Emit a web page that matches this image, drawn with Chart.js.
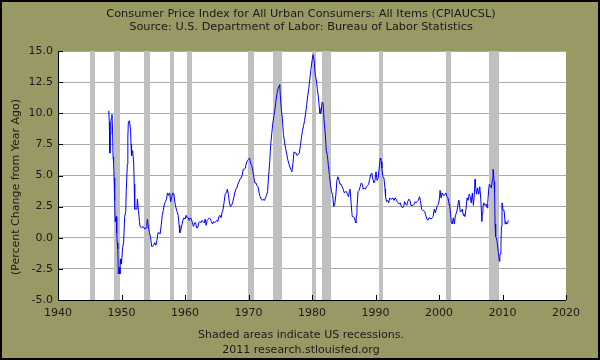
<!DOCTYPE html>
<html>
<head>
<meta charset="utf-8">
<title>CPIAUCSL</title>
<script src="https://cdn.jsdelivr.net/npm/chart.js@4/dist/chart.umd.min.js"></script>
<style>
  html, body { margin: 0; padding: 0; background: #999966; }
  canvas { display: block; }
</style>
</head>
<body>
<canvas id="cpiChart" width="600" height="360"></canvas>
<script>
// Datas das observações (ano decimal) e variação do CPI em 12 meses (%)
const obsDates = [
    1948.00, 1948.08, 1948.17, 1948.25, 1948.33, 1948.42, 1948.50, 1948.58, 1948.67, 1948.75, 1948.83, 1948.92,
    1949.00, 1949.08, 1949.17, 1949.25, 1949.33, 1949.42, 1949.50, 1949.58, 1949.67, 1949.75, 1949.83, 1949.92,
    1950.00, 1950.17, 1950.33, 1950.50, 1950.67, 1950.75, 1950.92,
    1951.00, 1951.08, 1951.25, 1951.42, 1951.50, 1951.58, 1951.75, 1951.92,
    1952.00, 1952.08, 1952.25, 1952.42, 1952.50, 1952.58, 1952.67, 1952.83, 1952.92,
    1953.17, 1953.42, 1953.67, 1953.92,
    1954.00, 1954.08, 1954.25, 1954.42, 1954.58, 1954.75, 1954.92,
    1955.08, 1955.25, 1955.42, 1955.58, 1955.75, 1955.92,
    1956.08, 1956.25, 1956.42, 1956.58, 1956.75, 1956.92,
    1957.08, 1957.25, 1957.42, 1957.58, 1957.75, 1957.92,
    1958.08, 1958.25, 1958.42, 1958.58, 1958.75, 1958.92,
    1959.08, 1959.17, 1959.33, 1959.50, 1959.67, 1959.83,
    1960.00, 1960.17, 1960.33, 1960.50, 1960.67, 1960.83,
    1961.00, 1961.17, 1961.33, 1961.50, 1961.67, 1961.83,
    1962.00, 1962.17, 1962.33, 1962.50, 1962.67, 1962.83,
    1963.00, 1963.17, 1963.33, 1963.50, 1963.67, 1963.83,
    1964.00, 1964.17, 1964.33, 1964.50, 1964.67, 1964.83,
    1965.00, 1965.17, 1965.33, 1965.50, 1965.67, 1965.83,
    1966.00, 1966.17, 1966.33, 1966.50, 1966.67, 1966.83,
    1967.00, 1967.17, 1967.33, 1967.50, 1967.67, 1967.83,
    1968.00, 1968.17, 1968.33, 1968.50, 1968.67, 1968.83,
    1969.00, 1969.17, 1969.33, 1969.50, 1969.67, 1969.83,
    1970.00, 1970.17, 1970.33, 1970.50, 1970.67, 1970.83,
    1971.00, 1971.17, 1971.33, 1971.50, 1971.67, 1971.83,
    1972.00, 1972.17, 1972.33, 1972.50, 1972.67, 1972.83,
    1973.00, 1973.17, 1973.33, 1973.50, 1973.67, 1973.83,
    1974.00, 1974.17, 1974.33, 1974.50, 1974.67, 1974.83, 1974.92,
    1975.00, 1975.17, 1975.33, 1975.50, 1975.67, 1975.83,
    1976.00, 1976.17, 1976.33, 1976.50, 1976.67, 1976.83,
    1977.00, 1977.17, 1977.33, 1977.50, 1977.67, 1977.83,
    1978.00, 1978.17, 1978.33, 1978.50, 1978.67, 1978.83,
    1979.00, 1979.17, 1979.33, 1979.50, 1979.67, 1979.83,
    1980.00, 1980.17, 1980.33, 1980.50, 1980.67, 1980.83,
    1981.00, 1981.17, 1981.25, 1981.42, 1981.58, 1981.75, 1981.92,
    1982.08, 1982.25, 1982.42, 1982.58, 1982.75, 1982.92,
    1983.08, 1983.25, 1983.42, 1983.58, 1983.75, 1983.92,
    1984.08, 1984.25, 1984.42, 1984.58, 1984.75, 1984.92,
    1985.08, 1985.25, 1985.42, 1985.58, 1985.75, 1985.92,
    1986.00, 1986.17, 1986.33, 1986.50, 1986.67, 1986.83, 1986.92,
    1987.00, 1987.08, 1987.17, 1987.25, 1987.42, 1987.58, 1987.75, 1987.92,
    1988.08, 1988.25, 1988.42, 1988.58, 1988.75, 1988.92,
    1989.08, 1989.25, 1989.42, 1989.58, 1989.75, 1989.92,
    1990.08, 1990.25, 1990.42, 1990.58, 1990.75, 1990.83, 1990.92,
    1991.00, 1991.17, 1991.33, 1991.50, 1991.58, 1991.75, 1991.92,
    1992.08, 1992.25, 1992.42, 1992.58, 1992.75, 1992.92,
    1993.08, 1993.25, 1993.42, 1993.58, 1993.75, 1993.92,
    1994.08, 1994.25, 1994.42, 1994.58, 1994.75, 1994.92,
    1995.08, 1995.25, 1995.42, 1995.58, 1995.75, 1995.92,
    1996.08, 1996.25, 1996.42, 1996.58, 1996.75, 1996.92,
    1997.08, 1997.25, 1997.42, 1997.58, 1997.75, 1997.92,
    1998.08, 1998.25, 1998.42, 1998.58, 1998.75, 1998.92,
    1999.08, 1999.25, 1999.42, 1999.58, 1999.75, 1999.92,
    2000.08, 2000.17, 2000.33, 2000.50, 2000.67, 2000.83, 2000.92,
    2001.08, 2001.25, 2001.42, 2001.58, 2001.67, 2001.83, 2001.92,
    2002.08, 2002.25, 2002.42, 2002.58, 2002.75, 2002.92,
    2003.08, 2003.17, 2003.33, 2003.50, 2003.67, 2003.83, 2003.92,
    2004.08, 2004.25, 2004.42, 2004.58, 2004.75, 2004.92,
    2005.08, 2005.25, 2005.42, 2005.58, 2005.67, 2005.75, 2005.92,
    2006.08, 2006.25, 2006.42, 2006.58, 2006.75, 2006.83, 2006.92,
    2007.08, 2007.25, 2007.42, 2007.58, 2007.67, 2007.83, 2007.92,
    2008.08, 2008.25, 2008.42, 2008.50, 2008.58, 2008.67, 2008.75, 2008.83, 2008.92,
    2009.08, 2009.17, 2009.33, 2009.50, 2009.58, 2009.67, 2009.75, 2009.83, 2009.92,
    2010.00, 2010.08, 2010.25, 2010.42, 2010.50, 2010.67, 2010.83, 2010.92
];

const cpiChange = [
    10.2, 9.3, 6.8, 8.3, 9.4, 9.6, 9.9, 8.9, 6.5, 6.1, 4.8, 3.0,
    1.3, 1.3, 1.7, 0.4, -0.4, -0.9, -2.9, -2.9, -2.4, -2.9, -1.7, -2.1,
    -2.1, -0.8, -0.4, 1.7, 2.1, 3.8, 5.9,
    8.1, 9.3, 9.4, 8.7, 7.5, 6.6, 7.0, 6.0,
    4.3, 2.3, 2.3, 2.3, 3.1, 3.1, 2.2, 1.3, 0.9,
    0.8, 0.9, 0.7, 0.8,
    1.1, 1.5, 0.8, 0.4, 0.0, -0.7, -0.7,
    -0.6, -0.4, -0.6, -0.2, 0.4, 0.4,
    0.3, 1.0, 1.8, 2.2, 2.7, 2.9,
    3.1, 3.6, 3.4, 3.6, 2.9, 3.3,
    3.6, 3.5, 2.8, 2.4, 2.1, 1.8,
    1.0, 0.4, 0.6, 1.0, 1.4, 1.6,
    1.5, 1.8, 1.6, 1.6, 1.4, 1.6,
    1.5, 1.2, 0.9, 1.2, 1.2, 0.8,
    0.8, 1.2, 1.3, 1.2, 1.4, 1.3,
    1.2, 1.5, 1.0, 1.4, 1.5, 1.6,
    1.5, 1.3, 1.1, 1.3, 1.2, 1.3,
    1.4, 1.3, 1.7, 1.8, 1.6, 2.0,
    2.3, 2.9, 3.5, 3.6, 3.9, 3.5,
    2.8, 2.5, 2.6, 2.8, 3.2, 3.6,
    3.9, 4.0, 4.3, 4.5, 4.7, 4.8,
    5.0, 5.5, 5.5, 5.6, 6.0, 6.2,
    6.3, 6.4, 6.0, 5.8, 5.4, 4.9,
    4.4, 4.4, 4.2, 4.1, 3.6, 3.3,
    3.1, 3.0, 3.1, 3.0, 3.2, 3.4,
    3.7, 5.0, 6.0, 7.5, 8.4, 9.2,
    9.8, 10.3, 11.0, 11.6, 12.0, 12.2, 12.3,
    11.5, 10.3, 9.6, 8.3, 7.7, 7.2,
    6.8, 6.3, 6.0, 5.7, 5.5, 5.3,
    6.0, 6.9, 6.8, 6.8, 6.6, 6.7,
    6.8, 7.4, 8.0, 8.6, 9.0, 9.4,
    10.0, 10.7, 11.4, 12.0, 12.8, 13.5,
    14.2, 14.7, 14.3, 13.1, 12.7, 12.0,
    11.3, 10.4, 10.0, 10.0, 10.9, 10.8, 9.3,
    8.4, 7.0, 6.6, 5.8, 5.0, 4.2,
    3.7, 3.4, 2.5, 2.7, 3.4, 4.6,
    4.9, 4.6, 4.3, 4.3, 4.1, 3.9,
    3.6, 3.7, 3.7, 3.5, 3.3, 3.8,
    3.9, 2.7, 1.7, 1.7, 1.6, 1.3, 1.2,
    1.8, 2.4, 3.1, 3.7, 3.8, 4.1, 4.4, 4.3,
    3.9, 4.0, 3.9, 4.1, 4.2, 4.3,
    4.7, 5.1, 5.2, 4.7, 4.4, 4.6,
    5.3, 4.6, 4.8, 5.6, 6.4, 6.3, 6.1,
    5.6, 4.9, 4.8, 3.9, 3.3, 2.9, 3.0,
    2.8, 3.2, 3.1, 3.1, 3.2, 3.0,
    3.2, 3.1, 2.9, 2.8, 2.7, 2.8,
    2.5, 2.4, 2.5, 2.9, 2.7, 2.6,
    2.9, 3.1, 3.0, 2.6, 2.6, 2.6,
    2.7, 2.9, 2.8, 2.9, 3.0, 3.3,
    3.0, 2.3, 2.2, 2.2, 2.1, 1.8,
    1.5, 1.4, 1.6, 1.6, 1.5, 1.6,
    1.7, 2.3, 2.0, 2.3, 2.6, 2.7,
    3.2, 3.8, 3.2, 3.6, 3.4, 3.4, 3.4,
    3.6, 3.3, 3.2, 2.7, 2.6, 1.9, 1.3,
    1.1, 1.6, 1.1, 1.8, 2.0, 2.4,
    3.0, 3.0, 2.1, 2.1, 2.3, 1.8, 1.9,
    1.7, 2.3, 3.2, 3.0, 3.5, 3.3,
    2.8, 3.6, 2.6, 3.6, 4.7, 4.2, 3.5,
    4.0, 3.5, 4.1, 3.1, 1.3, 2.0, 2.5,
    2.8, 2.6, 2.7, 2.4, 2.8, 3.9, 4.3,
    4.2, 4.0, 4.7, 5.5, 5.4, 4.5, 3.7, 1.1, 0.1,
    -0.1, -0.4, -1.1, -1.9, -1.4, -1.3, -0.7, 0.9, 2.8,
    2.6, 2.2, 2.2, 1.1, 1.3, 1.1, 1.2, 1.4
];

// Recessões dos EUA (início e fim, ano decimal)
const recessionStart = [1945.00, 1948.83, 1953.50, 1957.58, 1960.25, 1969.92, 1973.83, 1980.00, 1981.50, 1990.50, 2001.17, 2007.92];
const recessionEnd   = [1945.75, 1949.83, 1954.42, 1958.33, 1961.17, 1970.92, 1975.25, 1980.58, 1982.92, 1991.25, 2001.92, 2009.50];

const titleLines = [
    'Consumer Price Index for All Urban Consumers: All Items (CPIAUCSL)',
    'Source: U.S. Department of Labor: Bureau of Labor Statistics'
];
const footerLines = [
    'Shaded areas indicate US recessions.',
    '2011 research.stlouisfed.org'
];
const yAxisLabel = '(Percent Change from Year Ago)';

const OLIVE = '#999966';
const TEXT = '#1a1a1a';
const FONT = '"DejaVu Sans", Verdana, sans-serif';

Chart.defaults.font.family = FONT;
Chart.defaults.font.size = 11;
Chart.defaults.color = TEXT;

// Fundo, faixas de recessão, marcas dos eixos e textos
const fredFrame = {
    id: 'fredFrame',
    beforeDraw(chart) {
        const { ctx, chartArea: a } = chart;
        ctx.save();
        ctx.fillStyle = OLIVE;
        ctx.fillRect(0, 0, chart.width, chart.height);
        ctx.fillStyle = '#ffffff';
        ctx.fillRect(a.left, a.top, a.right - a.left, a.bottom - a.top);
        ctx.restore();
    },
    beforeDatasetsDraw(chart) {
        const { ctx, chartArea: a, scales: { x } } = chart;
        ctx.save();
        ctx.fillStyle = '#c0c0c0';
        recessionStart.forEach((s, i) => {
            const x0 = Math.round(x.getPixelForValue(s));
            const x1 = Math.round(x.getPixelForValue(recessionEnd[i]));
            ctx.fillRect(x0, a.top, x1 - x0, a.bottom - a.top);
        });
        ctx.restore();
    },
    afterDraw(chart) {
        const { ctx, chartArea: a, scales: { x, y } } = chart;
        ctx.save();

        // eixos esquerdo e inferior
        ctx.strokeStyle = '#000';
        ctx.lineWidth = 1;
        ctx.beginPath();
        ctx.moveTo(a.left + 0.5, a.top);
        ctx.lineTo(a.left + 0.5, a.bottom + 0.5);
        ctx.lineTo(a.right, a.bottom + 0.5);
        ctx.stroke();

        // marcas para dentro da área do gráfico
        ctx.beginPath();
        x.ticks.forEach(t => {
            const px = Math.round(x.getPixelForValue(t.value)) + 0.5;
            ctx.moveTo(px, a.bottom);
            ctx.lineTo(px, a.bottom - 5);
        });
        y.ticks.forEach(t => {
            const py = Math.round(y.getPixelForValue(t.value)) + 0.5;
            ctx.moveTo(a.left, py);
            ctx.lineTo(a.left + 5, py);
        });
        ctx.stroke();

        // textos
        ctx.fillStyle = TEXT;
        ctx.textAlign = 'center';
        ctx.textBaseline = 'middle';
        ctx.font = '11.3px ' + FONT;
        ctx.fillText(titleLines[0], 301, 14);
        ctx.fillText(titleLines[1], 301, 27);
        ctx.font = '11px ' + FONT;
        ctx.fillText(footerLines[0], 301, 335);
        ctx.fillText(footerLines[1], 301, 350);

        ctx.translate(16, 187);
        ctx.rotate(-Math.PI / 2);
        ctx.fillText(yAxisLabel, 0, 0);
        ctx.restore();

        // moldura preta
        ctx.save();
        ctx.strokeStyle = '#000';
        ctx.lineWidth = 2;
        ctx.strokeRect(1, 1, chart.width - 2, chart.height - 2);
        ctx.restore();
    }
};

const points = obsDates.map((d, i) => ({ x: d, y: cpiChange[i] }));

const cpiCtx = document.getElementById('cpiChart').getContext('2d');
const cpiChart = new Chart(cpiCtx, {
    type: 'line',
    data: {
        datasets: [{
            label: 'CPIAUCSL',
            data: points,
            borderColor: '#0000ff',
            borderWidth: 1,
            pointRadius: 0,
            tension: 0,
            fill: false
        }]
    },
    options: {
        responsive: false,
        animation: false,
        devicePixelRatio: 1,
        layout: {
            padding: { top: 51, right: 34, bottom: 0, left: 0 }
        },
        plugins: {
            legend: { display: false },
            tooltip: { enabled: false },
            title: { display: false }
        },
        scales: {
            x: {
                type: 'linear',
                min: 1940,
                max: 2020,
                afterFit: function(scale) { scale.height = 60; },
                ticks: {
                    stepSize: 10,
                    padding: 7,
                    maxRotation: 0,
                    autoSkip: false,
                    color: TEXT,
                    callback: function(value) { return String(value); }
                },
                grid: { display: false, drawTicks: false },
                border: { display: false }
            },
            y: {
                min: -5,
                max: 15,
                afterFit: function(scale) { scale.width = 58; },
                ticks: {
                    stepSize: 2.5,
                    padding: 5,
                    color: TEXT,
                    callback: function(value) { return value.toFixed(1); }
                },
                grid: { color: '#aaaaaa', drawTicks: false },
                border: { display: false }
            }
        }
    },
    plugins: [fredFrame]
});
</script>
</body>
</html>
